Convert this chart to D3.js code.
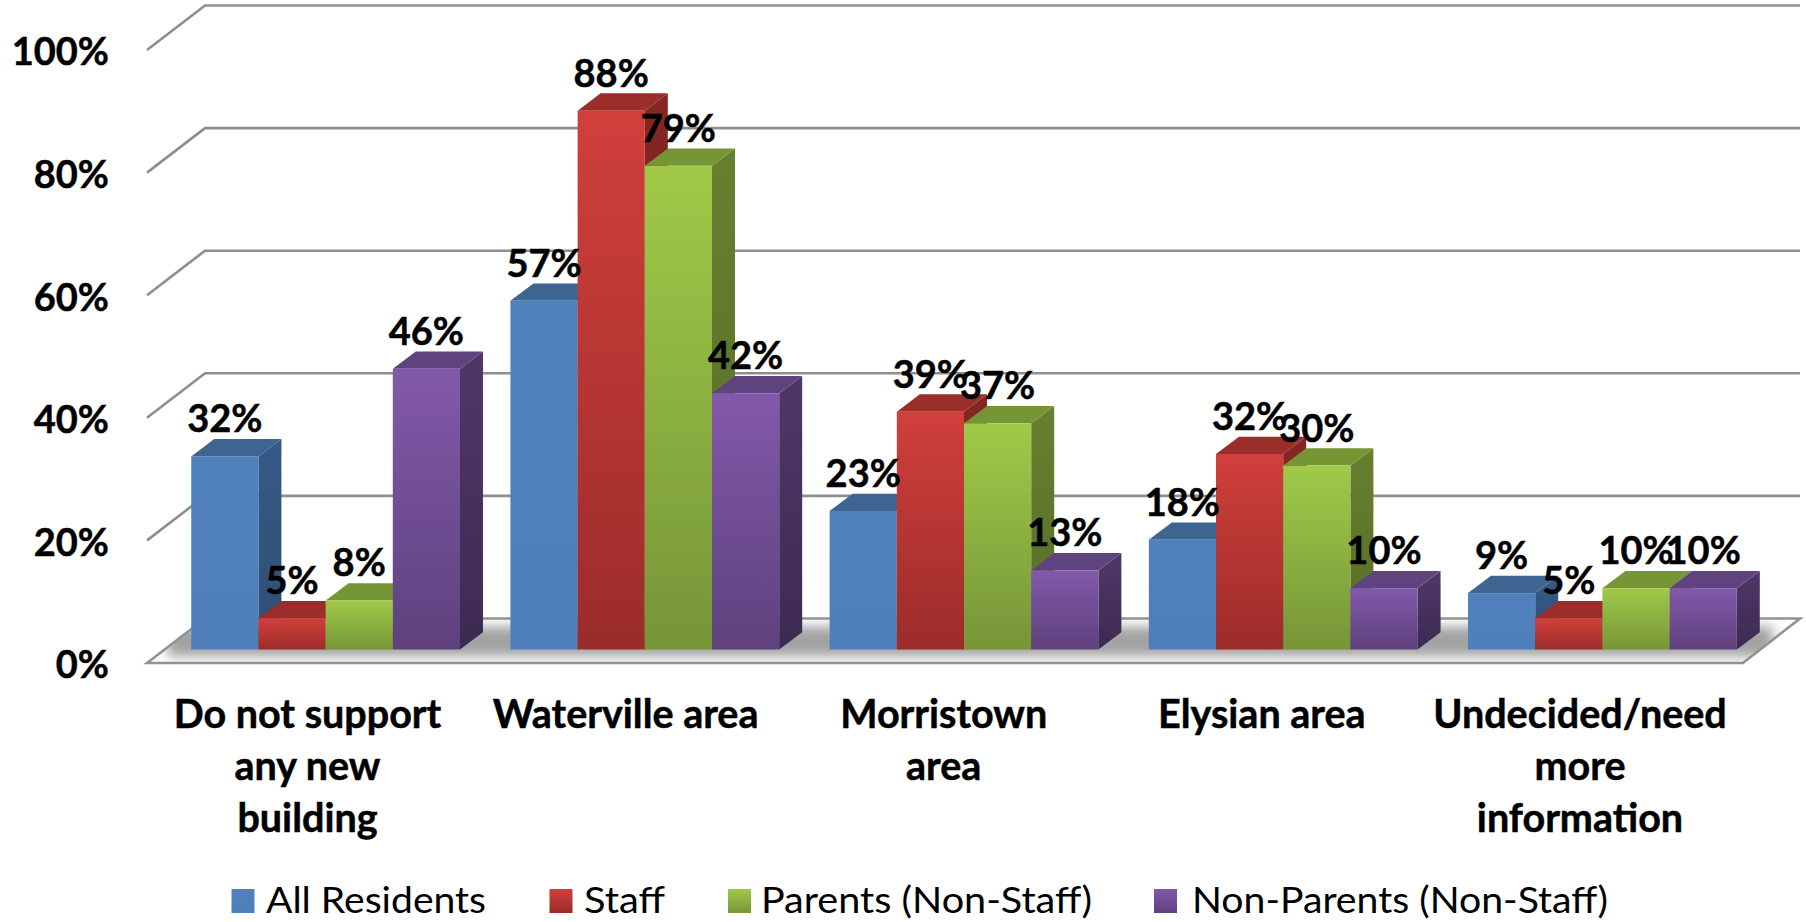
<!DOCTYPE html>
<html>
<head>
<meta charset="utf-8">
<title>Building location support</title>
<script src="https://cdn.jsdelivr.net/npm/d3@7"></script>
<style>
    html, body { margin: 0; padding: 0; background: #fff; }
    svg { display: block; }
    text { font-family: Lato, "Open Sans", sans-serif; fill: #000; }
    .tick-label, .value-label, .cat-label { font-weight: 700; stroke: #000; stroke-width: 0.5px; }
    .tick-label { font-size: 38px; }
    .value-label { font-size: 38px; }
    .cat-label { font-size: 39.5px; }
    .legend-label { font-size: 37px; }
</style>
</head>
<body>
<svg id="chart" width="1806" height="922"></svg>
<script>
// Values
const categories = ['Do not support any new building', 'Waterville area', 'Morristown area', 'Elysian area', 'Undecided/need more information'];
const categoryLines = [['Do not support', 'any new', 'building'], ['Waterville area'], ['Morristown', 'area'], ['Elysian area'], ['Undecided/need', 'more', 'information']];
const seriesNames = ['All Residents', 'Staff', 'Parents (Non-Staff)', 'Non-Parents (Non-Staff)'];
const allResidents = [31.5, 56.9, 22.6, 17.9, 9.2];
const staff = [5.1, 87.9, 38.8, 31.9, 5.1];
const parents = [8, 78.9, 36.9, 30, 10];
const nonParents = [45.8, 41.8, 12.9, 10, 10];
const yTicks = [0, 20, 40, 60, 80, 100];

const seriesValues = [allResidents, staff, parents, nonParents];

// front, top, side colours per series
const faceColors = [
    { front: ['#4f81bd', '#4f7fba'], top: '#3e6491', side: ['#345a86', '#2f4f75'] },
    { front: ['#d13f3b', '#9b2c2a'], top: '#9b2d2b', side: ['#842624', '#6d1f1d'] },
    { front: ['#a0ca48', '#769538'], top: '#769636', side: ['#67802f', '#566b27'] },
    { front: ['#8259aa', '#5f417d'], top: '#5f4380', side: ['#4f3868', '#3d2a52'] }
];

// Legend boxes and text extents, in px
const legendSwatchX = [231.5, 549.5, 728, 1154];
const legendTextX = [266, 584, 761, 1192];
const legendTextW = [220, 81, 331, 416];

const svg = d3.select('#chart');
const defs = svg.append('defs');

const x0 = d3.scaleBand().domain(categories).range([147, 1743]).paddingInner(0.158).paddingOuter(0.079);
const x1 = d3.scaleBand().domain(d3.range(seriesNames.length)).range([0, x0.bandwidth()]);
const xLabel = d3.scalePoint().domain(categories).range([307.5, 1580]);
const y = d3.scaleLinear().domain([0, 100]).range([663, 50]);

// Oblique offsets of the 3D box
const wall = { dx: 58, dy: -44.5 };     // floor depth
const inset = { dx: 19, dy: -13.5 };    // bars stand a bit behind the floor edge
const depth = { dx: 23, dy: -17.3 };    // bar depth
const wallRight = 1800;

const barBase = y(0) + inset.dy;
const xFront = 147, xBackFloorRight = 1743;

function points(list) {
    return list.map(p => p.join(',')).join(' ');
}

faceColors.forEach((c, i) => {
    const g = defs.append('linearGradient').attr('id', `front-${i}`).attr('x1', 0).attr('y1', 0).attr('x2', 0).attr('y2', 1);
    g.append('stop').attr('offset', 0).attr('stop-color', c.front[0]);
    g.append('stop').attr('offset', 1).attr('stop-color', c.front[1]);
    const s = defs.append('linearGradient').attr('id', `side-${i}`).attr('x1', 0).attr('y1', 0).attr('x2', 0).attr('y2', 1);
    s.append('stop').attr('offset', 0).attr('stop-color', c.side[0]);
    s.append('stop').attr('offset', 1).attr('stop-color', c.side[1]);
});
defs.append('filter').attr('id', 'soft').attr('x', '-5%').attr('y', '-50%').attr('width', '110%').attr('height', '200%')
    .append('feGaussianBlur').attr('stdDeviation', 6);
defs.append('clipPath').attr('id', 'floor-clip').append('polygon')
    .attr('points', points([[xFront, y(0)], [xFront + wall.dx, y(0) + wall.dy], [wallRight, y(0) + wall.dy], [xBackFloorRight, y(0)]]));

// Gridlines run along the side wall, then the back wall
svg.append('g').selectAll('polyline')
    .data(yTicks.filter(d => d > 0))
    .enter().append('polyline')
    .attr('points', d => points([[xFront, y(d)], [xFront + wall.dx, y(d) + wall.dy], [wallRight, y(d) + wall.dy]]))
    .attr('fill', 'none')
    .attr('stroke', '#8e8e8e')
    .attr('stroke-width', 2.6);

// Floor
const floorPts = points([[xFront, y(0)], [xFront + wall.dx, y(0) + wall.dy], [wallRight, y(0) + wall.dy], [xBackFloorRight, y(0)]]);
svg.append('polygon').attr('points', floorPts).attr('fill', '#fff');
svg.append('g').attr('clip-path', 'url(#floor-clip)')
    .append('rect')
    .attr('x', xFront + 20).attr('y', y(0) + wall.dy + 8)
    .attr('width', xBackFloorRight - xFront + 10).attr('height', 30)
    .attr('fill', '#a2a2a2')
    .attr('filter', 'url(#soft)');
svg.append('polygon').attr('points', floorPts)
    .attr('fill', 'none')
    .attr('stroke', '#929292')
    .attr('stroke-width', 2.6);

// Bars, left to right so each one covers its neighbour's side face
const bars = [];
categories.forEach((cat, c) => {
    seriesNames.forEach((name, s) => {
        bars.push({ cat, s, value: seriesValues[s][c] });
    });
});

const barG = svg.append('g').selectAll('g')
    .data(bars)
    .enter().append('g')
    .each(function (d) {
        d.left = x0(d.cat) + x1(d.s) + inset.dx;
        d.right = d.left + x1.bandwidth();
        d.top = barBase - (y(0) - y(d.value));
    });

barG.append('polygon')
    .attr('points', d => points([[d.right, d.top], [d.right + depth.dx, d.top + depth.dy], [d.right + depth.dx, barBase + depth.dy], [d.right, barBase]]))
    .attr('fill', d => `url(#side-${d.s})`);
barG.append('polygon')
    .attr('points', d => points([[d.left, d.top], [d.left + depth.dx, d.top + depth.dy], [d.right + depth.dx, d.top + depth.dy], [d.right, d.top]]))
    .attr('fill', d => faceColors[d.s].top);
barG.append('rect')
    .attr('x', d => d.left)
    .attr('y', d => d.top)
    .attr('width', x1.bandwidth())
    .attr('height', d => barBase - d.top)
    .attr('fill', d => `url(#front-${d.s})`);

// Value labels go over everything
svg.append('g').selectAll('text')
    .data(bars)
    .enter().append('text')
    .attr('class', 'value-label')
    .attr('text-anchor', 'middle')
    .attr('x', d => (d.left + d.right) / 2)
    .attr('y', d => d.top - 24)
    .text(d => `${Math.round(d.value)}%`);

// Y axis labels
const yAxis = svg.append('g')
    .attr('transform', `translate(${xFront},0)`)
    .call(d3.axisLeft(y).tickValues(yTicks).tickSize(0).tickPadding(38).tickFormat(d => `${d}%`));
yAxis.select('.domain').remove();
yAxis.selectAll('text').attr('class', 'tick-label').attr('dy', '0.39em');
yAxis.attr('font-family', null).attr('font-size', null);

// Category labels
svg.append('g').selectAll('text')
    .data(categories)
    .enter().append('text')
    .attr('class', 'cat-label')
    .attr('text-anchor', 'middle')
    .each(function (d, i) {
        d3.select(this).selectAll('tspan')
            .data(categoryLines[i])
            .enter().append('tspan')
            .attr('x', xLabel(d))
            .attr('y', (t, j) => 728 + j * 52)
            .text(t => t);
    });

// Legend
const legend = svg.append('g').selectAll('g')
    .data(seriesNames)
    .enter().append('g');
legend.append('rect')
    .attr('x', (d, i) => legendSwatchX[i])
    .attr('y', 889)
    .attr('width', 23)
    .attr('height', 24)
    .attr('fill', (d, i) => `url(#front-${i})`);
legend.append('text')
    .attr('class', 'legend-label')
    .attr('x', (d, i) => legendTextX[i])
    .attr('y', 913)
    .attr('textLength', (d, i) => legendTextW[i])
    .attr('lengthAdjust', 'spacingAndGlyphs')
    .text(d => d);
</script>
</body>
</html>
